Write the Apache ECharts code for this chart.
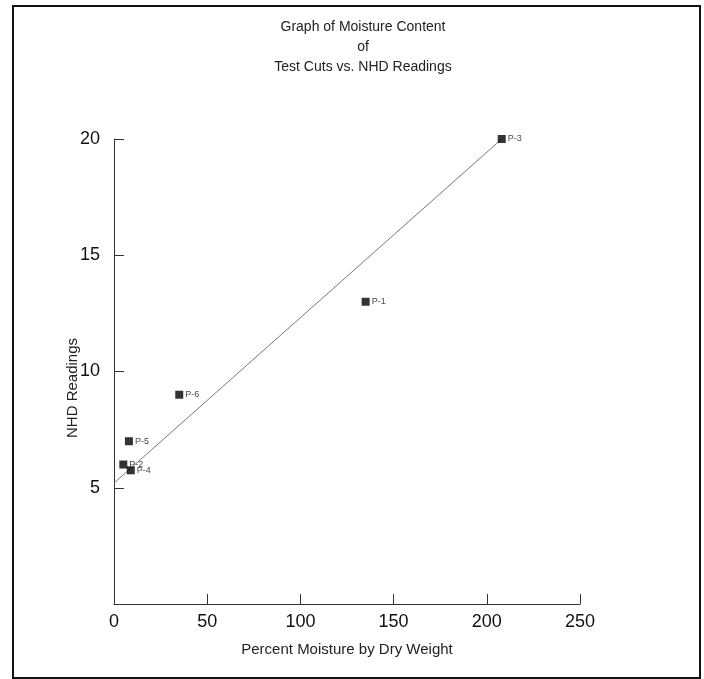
<!DOCTYPE html>
<html>
<head>
<meta charset="utf-8">
<script src="https://cdn.jsdelivr.net/npm/echarts@6/dist/echarts.min.js"></script>
<style>
  html, body { margin: 0; padding: 0; background: #fff; }
  #chart { width: 704px; height: 679px; }
</style>
</head>
<body>
<div id="chart"></div>
<script>
// test cuts: moisture % by dry weight vs NHD reading
const sampleNames = ["P-1", "P-2", "P-3", "P-4", "P-5", "P-6"];
const moisture = [135, 5, 208, 9, 8, 35];
const nhdReadings = [13, 6, 20, 5.75, 7, 9];

// fitted line endpoints
const fitX = [0, 208];
const fitY = [5.2, 20];

const fontFamily = "Liberation Sans, Arial, Helvetica, sans-serif";

const chart = echarts.init(document.getElementById("chart"));

chart.setOption({
  animation: false,
  backgroundColor: "#fff",
  textStyle: { fontFamily: fontFamily },
  title: {
    text: "Graph of Moisture Content\nof\nTest Cuts vs. NHD Readings",
    left: 358,
    textAlign: "center",
    top: 12,
    textStyle: {
      color: "#222",
      fontSize: 14,
      fontWeight: "normal",
      lineHeight: 20,
      fontFamily: fontFamily
    }
  },
  graphic: [
    {
      // outer frame
      type: "rect",
      shape: { x: 13, y: 6, width: 687, height: 672 },
      style: { fill: "none", stroke: "#111", lineWidth: 2 },
      silent: true
    },
    {
      // y axis title sits a bit below the axis middle in the original
      type: "text",
      x: 73,
      y: 388,
      rotation: Math.PI / 2,
      style: {
        text: "NHD Readings",
        fill: "#222",
        font: "15px " + fontFamily,
        align: "center",
        verticalAlign: "middle"
      },
      silent: true
    }
  ],
  grid: {
    left: 114,
    top: 139,
    right: 124,
    bottom: 75
  },
  xAxis: {
    type: "value",
    min: 0,
    max: 250,
    interval: 50,
    name: "Percent Moisture by Dry Weight",
    nameLocation: "middle",
    nameGap: 38,
    nameTextStyle: { color: "#222", fontSize: 15 },
    splitLine: { show: false },
    axisLine: { lineStyle: { color: "#333", width: 1 } },
    axisTick: { inside: true, length: 10, lineStyle: { color: "#333" } },
    axisLabel: { color: "#111", fontSize: 18, margin: 9 }
  },
  yAxis: {
    type: "value",
    min: 0,
    max: 20,
    interval: 5,
    splitLine: { show: false },
    axisLine: { show: true, lineStyle: { color: "#333", width: 1 } },
    axisTick: { inside: true, length: 10, lineStyle: { color: "#333" } },
    axisLabel: {
      color: "#111",
      fontSize: 18,
      margin: 14,
      showMinLabel: false
    }
  },
  series: [
    {
      name: "fit",
      type: "line",
      data: fitX.map((x, i) => [x, fitY[i]]),
      symbol: "none",
      lineStyle: { color: "#777", width: 1 },
      silent: true,
      z: 1
    },
    {
      name: "samples",
      type: "scatter",
      data: moisture.map((x, i) => ({ value: [x, nhdReadings[i]], name: sampleNames[i] })),
      symbol: "rect",
      symbolSize: 8,
      itemStyle: { color: "#000" },
      label: {
        show: true,
        position: "right",
        distance: 2,
        formatter: "{b}",
        color: "#111",
        fontSize: 9
      },
      z: 2
    }
  ]
});
</script>
</body>
</html>
